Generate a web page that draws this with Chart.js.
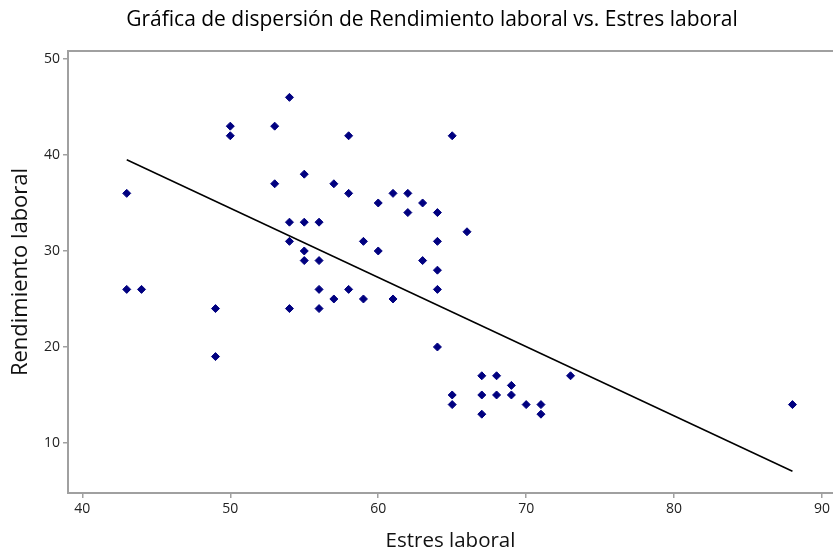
<!DOCTYPE html>
<html>
<head>
<meta charset="utf-8">
<script src="https://cdn.jsdelivr.net/npm/chart.js@4/dist/chart.umd.min.js"></script>
<style>
  body { margin: 0; background: #fff; }
  #wrap { width: 833px; height: 550px; }
</style>
</head>
<body>
<div id="wrap"><canvas id="chart_disp"></canvas></div>
<script>
// datos
const estres = [43,43,44,49,49,50,50,53,53,54,54,54,54,55,55,55,55,56,56,56,56,57,57,58,58,58,59,59,60,60,61,61,62,62,63,63,64,64,64,64,64,65,65,65,66,67,67,67,68,68,69,69,70,71,71,73,88];
const rendimiento = [36,26,26,24,19,43,42,43,37,46,33,31,24,38,33,30,29,33,29,26,24,37,25,42,36,26,31,25,35,30,36,25,36,34,35,29,34,31,28,26,20,42,15,14,32,17,15,13,17,15,16,15,14,14,13,17,14];

// recta de ajuste (extremos)
const ajusteX = [43, 88];
const ajusteY = [39.5, 7.05];

const xTicks = [40, 50, 60, 70, 80, 90];
const yTicks = [10, 20, 30, 40, 50];

const titulo = 'Gráfica de dispersión de Rendimiento laboral vs. Estres laboral';

const puntos = estres.map((x, i) => ({ x: x, y: rendimiento[i] }));
const recta = ajusteX.map((x, i) => ({ x: x, y: ajusteY[i] }));

const gris = '#a0a0a0';
const fuente = "'Open Sans', sans-serif";

// linea superior del marco + titulo (un poco a la derecha del centro, como el original)
const marcoSup = {
  id: 'marcoSup',
  afterDraw(chart) {
    const { ctx, chartArea } = chart;
    ctx.save();
    ctx.strokeStyle = gris;
    ctx.lineWidth = 2;
    ctx.beginPath();
    ctx.moveTo(chartArea.left - 1, chartArea.top);
    ctx.lineTo(chartArea.right, chartArea.top);
    ctx.stroke();

    ctx.fillStyle = '#000';
    ctx.font = "21px 'Open Sans', sans-serif";
    ctx.textAlign = 'center';
    ctx.textBaseline = 'middle';
    ctx.fillText(titulo, 432, 20);
    ctx.restore();
  }
};

const disp = document.getElementById('chart_disp');

new Chart(disp, {
  type: 'scatter',
  data: {
    datasets: [{
      label: 'Datos',
      data: puntos,
      pointStyle: 'rectRot',
      pointRadius: 4,
      pointBorderWidth: 1,
      backgroundColor: '#000080',
      borderColor: '#000080',
      order: 1
    }, {
      type: 'line',
      label: 'Ajuste',
      data: recta,
      borderColor: '#000000',
      borderWidth: 1.5,
      pointRadius: 0,
      fill: false,
      order: 2
    }]
  },
  options: {
    responsive: true,
    maintainAspectRatio: false,
    animation: false,
    layout: { autoPadding: false, padding: { top: 51, left: 0, bottom: 0, right: 0 } },
    plugins: {
      legend: { display: false },
      tooltip: { enabled: false },
      title: { display: false }
    },
    scales: {
      x: {
        type: 'linear',
        min: 39.03,
        max: 90.74,
        afterFit: s => { s.height = 57; s.paddingLeft = 0; s.paddingRight = 0; },
        afterBuildTicks: s => { s.ticks = xTicks.map(v => ({ value: v })); },
        border: { display: true, color: gris, width: 2 },
        grid: { display: true, drawOnChartArea: false, drawTicks: true, tickLength: 5, color: gris, lineWidth: 1.5 },
        ticks: { color: '#222', padding: 3, font: { family: fuente, size: 14 } },
        title: { display: true, text: 'Estres laboral', color: '#111', padding: { top: 2, bottom: -3 }, font: { family: fuente, size: 20.5 } }
      },
      y: {
        type: 'linear',
        min: 4.79,
        max: 50.83,
        afterFit: s => { s.width = 68; },
        afterBuildTicks: s => { s.ticks = yTicks.map(v => ({ value: v })); },
        border: { display: true, color: gris, width: 2 },
        grid: { display: true, drawOnChartArea: false, drawTicks: true, tickLength: 5, color: gris, lineWidth: 1.5 },
        ticks: { color: '#222', padding: 3, font: { family: fuente, size: 14 } },
        title: { display: true, text: 'Rendimiento laboral', color: '#111', padding: { top: 8, bottom: 0 }, font: { family: fuente, size: 22 } }
      }
    }
  },
  plugins: [marcoSup]
});
</script>
</body>
</html>
